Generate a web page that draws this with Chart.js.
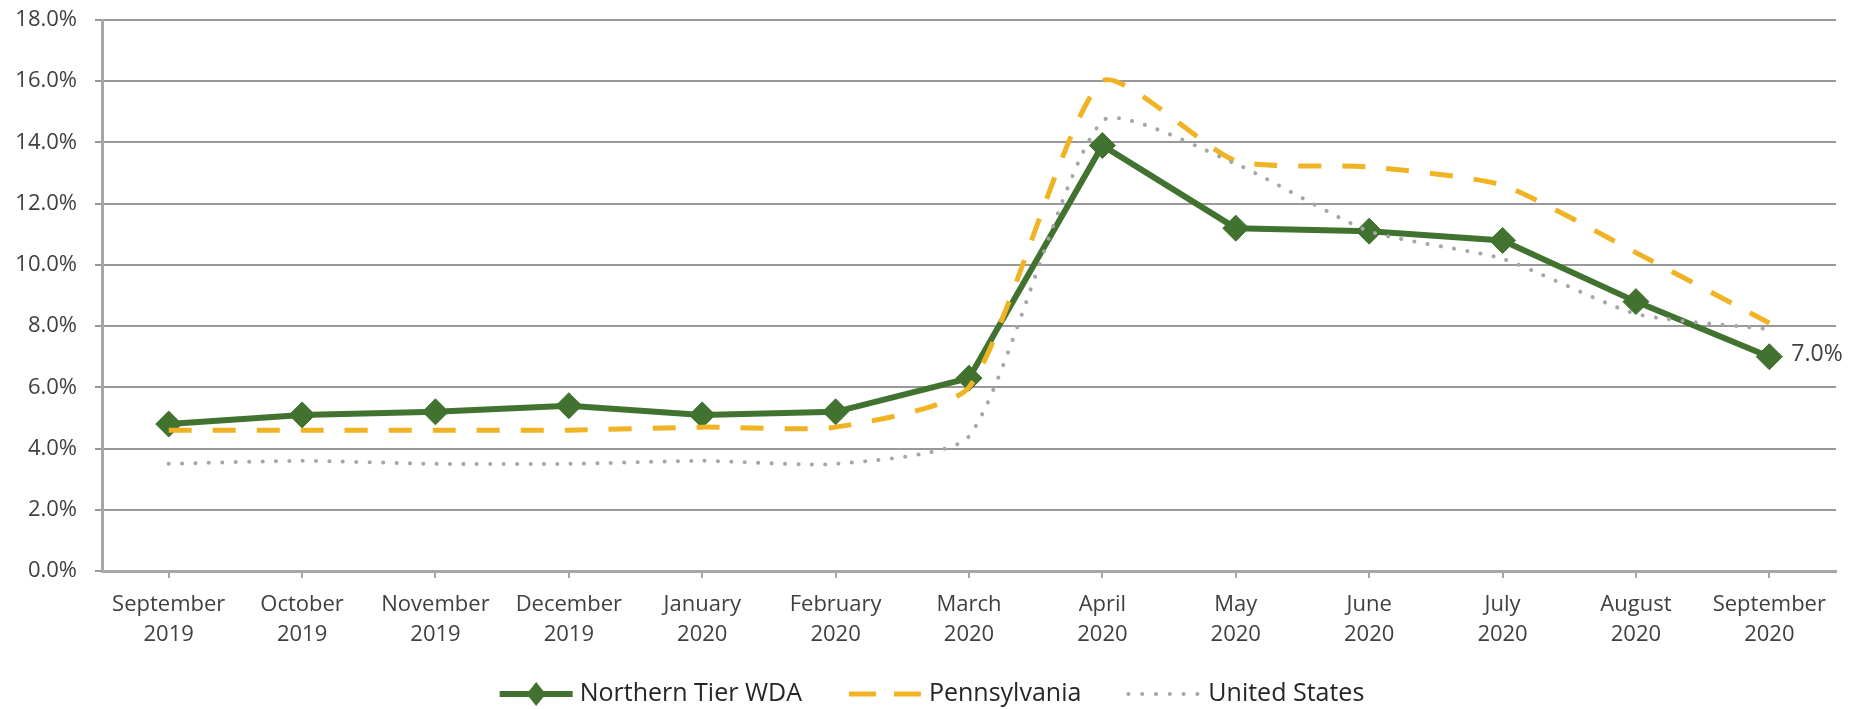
<!DOCTYPE html>
<html>
<head>
<meta charset="utf-8">
<script src="https://cdn.jsdelivr.net/npm/chart.js@4.4.1/dist/chart.umd.min.js"></script>
<style>
  html, body { margin: 0; padding: 0; background: #fff; }
  #wrap { width: 1864px; height: 709px; position: relative; }
</style>
</head>
<body>
<div id="wrap"><canvas id="chart"></canvas></div>
<script>
const months = [
  ["September", "2019"], ["October", "2019"], ["November", "2019"], ["December", "2019"],
  ["January", "2020"], ["February", "2020"], ["March", "2020"], ["April", "2020"],
  ["May", "2020"], ["June", "2020"], ["July", "2020"], ["August", "2020"], ["September", "2020"]
];
const northernTier = [4.8, 5.1, 5.2, 5.4, 5.1, 5.2, 6.3, 13.9, 11.2, 11.1, 10.8, 8.8, 7.0];
const pennsylvania = [4.6, 4.6, 4.6, 4.6, 4.7, 4.7, 6.0, 16.0, 13.4, 13.2, 12.6, 10.4, 8.1];
const unitedStates = [3.5, 3.6, 3.5, 3.5, 3.6, 3.5, 4.4, 14.7, 13.3, 11.1, 10.2, 8.4, 7.9];

const GREEN = "#41722f";
const GOLD = "#f0b323";
const GREY = "#a6a6a6";
const FONT = "'Open Sans', 'Noto Sans', sans-serif";

// label on the last Northern Tier point
const lastLabel = {
  id: "lastLabel",
  afterDatasetsDraw(chart) {
    const meta = chart.getDatasetMeta(0);
    const pt = meta.data[meta.data.length - 1];
    const v = chart.data.datasets[0].data.at(-1);
    const ctx = chart.ctx;
    ctx.save();
    ctx.font = "23px " + FONT;
    ctx.fillStyle = "#404040";
    ctx.textAlign = "left";
    ctx.textBaseline = "middle";
    ctx.fillText(v.toFixed(1) + "%", pt.x + 22, pt.y - 2);
    ctx.restore();
  }
};

// legend drawn by hand so the samples look like the series (line + diamond, dash, dots)
const lineLegend = {
  id: "lineLegend",
  afterDraw(chart) {
    const ctx = chart.ctx;
    const sample = 73, gapText = 7, gapItem = 47;
    const y = 694;
    ctx.save();
    ctx.font = "25px " + FONT;
    const items = chart.data.datasets.map(ds => ({ ds, w: ctx.measureText(ds.label).width }));
    const total = items.reduce((s, it) => s + sample + gapText + it.w, 0) + gapItem * (items.length - 1);
    let x = chart.width / 2 - total / 2;
    for (const { ds, w } of items) {
      ctx.save();
      ctx.strokeStyle = ds.borderColor;
      ctx.lineWidth = ds.borderWidth;
      ctx.lineCap = ds.borderCapStyle || "butt";
      ctx.setLineDash(ds.legendDash || []);
      ctx.beginPath();
      ctx.moveTo(x, y);
      ctx.lineTo(x + sample, y);
      ctx.stroke();
      ctx.restore();
      if (ds.pointRadius > 0) {
        const cx = x + sample / 2, r = 12;
        ctx.fillStyle = ds.pointBackgroundColor;
        ctx.beginPath();
        ctx.moveTo(cx, y - r);
        ctx.lineTo(cx + r * 0.8, y);
        ctx.lineTo(cx, y + r);
        ctx.lineTo(cx - r * 0.8, y);
        ctx.closePath();
        ctx.fill();
      }
      ctx.fillStyle = "#262626";
      ctx.textAlign = "left";
      ctx.textBaseline = "middle";
      ctx.fillText(ds.label, x + sample + gapText, y);
      x += sample + gapText + w + gapItem;
    }
    ctx.restore();
  }
};

new Chart(document.getElementById("chart"), {
  type: "line",
  data: {
    labels: months,
    datasets: [
      {
        label: "Northern Tier WDA",
        data: northernTier,
        borderColor: GREEN,
        borderWidth: 6,
        pointStyle: "rectRot",
        pointRadius: 13,
        pointBackgroundColor: GREEN,
        pointBorderColor: GREEN,
        pointBorderWidth: 1,
        tension: 0,
        order: 3
      },
      {
        label: "Pennsylvania",
        data: pennsylvania,
        borderColor: GOLD,
        borderWidth: 5,
        borderDash: [23, 21],
        legendDash: [27, 18],
        pointRadius: 0,
        tension: 0.2,
        order: 2
      },
      {
        label: "United States",
        data: unitedStates,
        borderColor: GREY,
        borderWidth: 4,
        borderDash: [0.1, 13.3],
        legendDash: [0.1, 13.7],
        borderCapStyle: "round",
        pointRadius: 0,
        tension: 0.2,
        order: 1
      }
    ]
  },
  options: {
    responsive: true,
    maintainAspectRatio: false,
    animation: false,
    layout: { padding: { top: 20, right: 28, left: 0, bottom: 58 } },
    plugins: {
      legend: { display: false },
      tooltip: { enabled: false }
    },
    scales: {
      x: {
        offset: true,
        afterFit: s => { s.height = 80; },
        grid: {
          drawOnChartArea: false,
          drawTicks: true,
          tickLength: 7,
          color: GREY,
          lineWidth: 2
        },
        border: { display: true, color: GREY, width: 3 },
        ticks: {
          color: "#404040",
          font: { family: FONT, size: 22, lineHeight: 1.4 },
          padding: 11,
          maxRotation: 0,
          autoSkip: false
        }
      },
      y: {
        min: 0,
        max: 18,
        afterFit: s => { s.width = 102; s.paddingTop = 0; s.paddingBottom = 0; },
        grid: {
          color: "#999999",
          lineWidth: 2,
          drawTicks: true,
          tickLength: 7
        },
        border: { display: true, color: GREY, width: 3 },
        ticks: {
          stepSize: 2,
          color: "#404040",
          font: { family: FONT, size: 22 },
          padding: 18,
          callback: v => v.toFixed(1) + "%"
        }
      }
    }
  },
  plugins: [lastLabel, lineLegend]
});
</script>
</body>
</html>
